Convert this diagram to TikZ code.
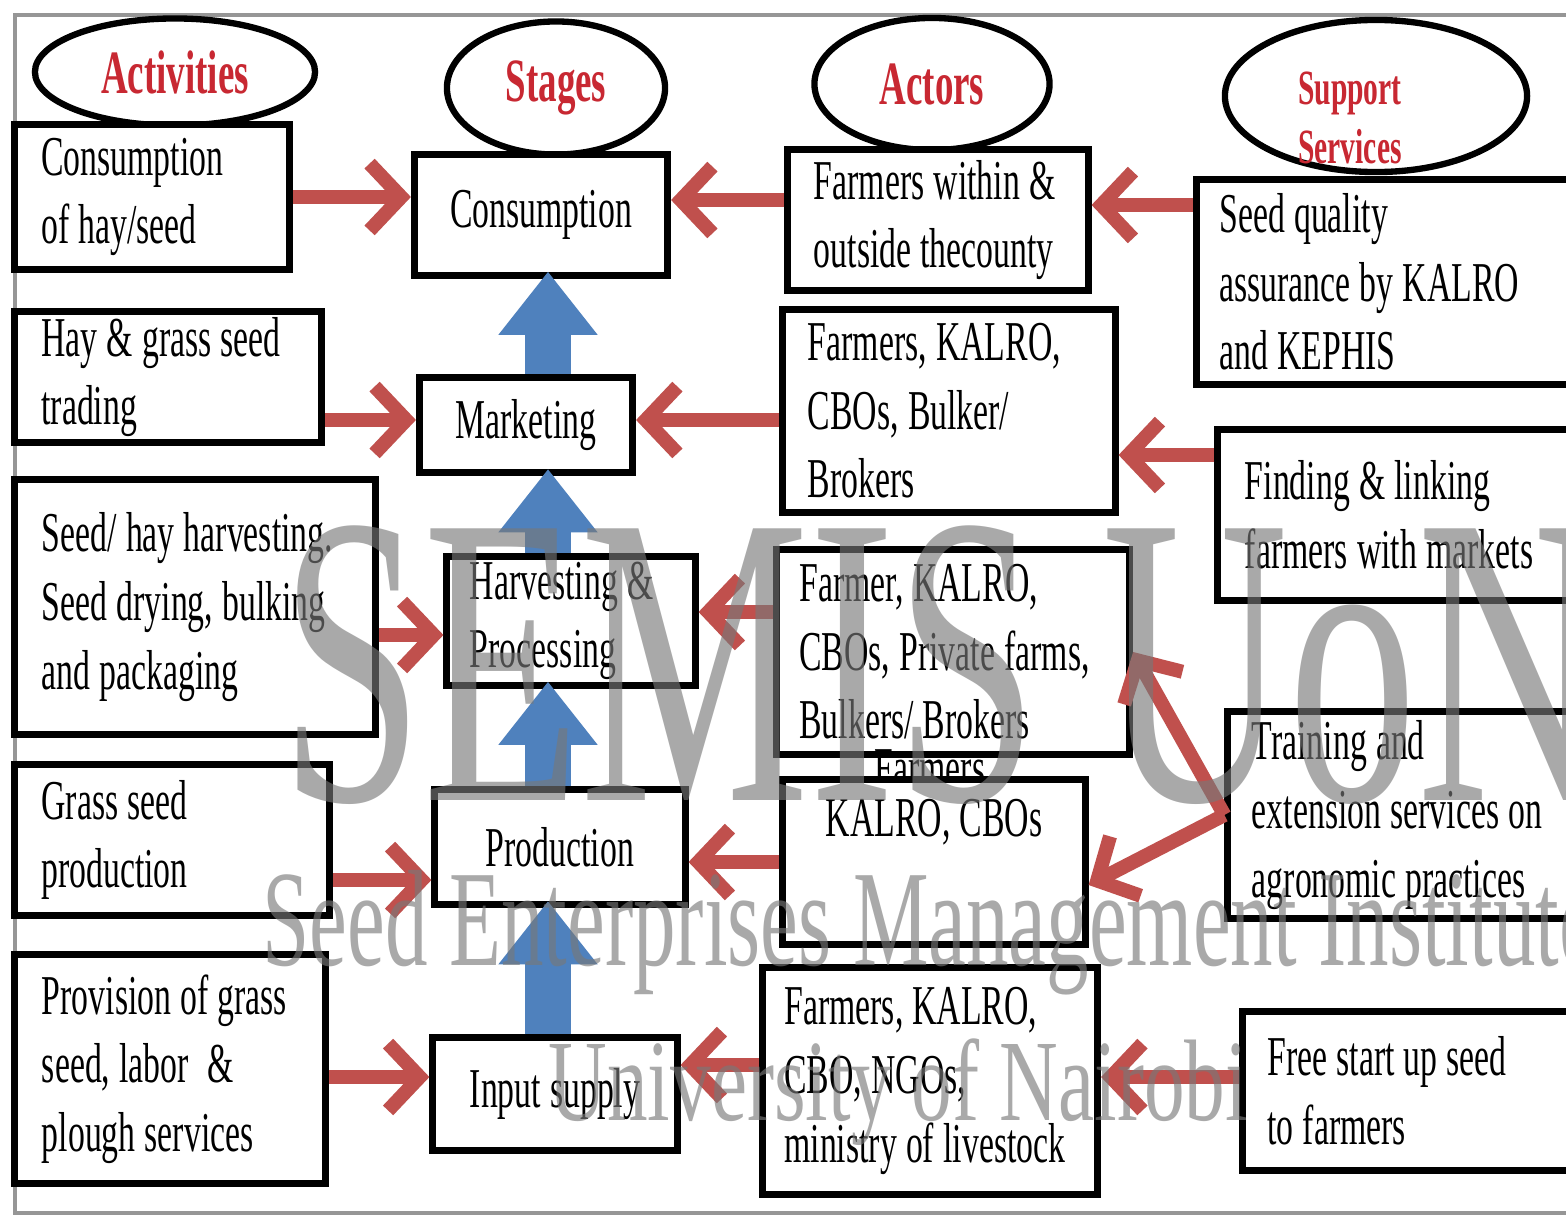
\documentclass[tikz,border=0pt]{standalone}
\usepackage{fontspec}
\setmainfont{Liberation Serif}
\newfontfamily\chainfont{Liberation Serif}[FakeStretch=0.6]
\newfontfamily\markfont{Liberation Serif}[FakeStretch=0.62]
\newfontfamily\markwidefont{Liberation Serif}[FakeStretch=0.7]
\usetikzlibrary{shapes.geometric,arrows.meta}
\definecolor{arrowred}{RGB}{192,80,77}
\definecolor{titlered}{RGB}{200,40,50}
\definecolor{arrowblue}{RGB}{79,129,189}
\definecolor{framegray}{RGB}{150,150,150}
\newcommand{\boxtext}{\chainfont\fontsize{16}{19.5}\selectfont\spaceskip=2.6pt plus 1.5pt minus 0.8pt\hyphenpenalty=10000\relax}
\newcommand{\headtext}{\chainfont\bfseries\fontsize{17.5}{20}\selectfont}
\newcommand{\suptext}{\chainfont\bfseries\fontsize{14}{17}\selectfont}

\begin{document}
\begin{tikzpicture}[x=0.01cm, y=-0.01cm,
		box/.style={draw, line width=2pt, fill=white, inner sep=0pt, align=flush left, font=\boxtext},
		stagebox/.style={box, align=flush center},
		titleoval/.style={ellipse, draw, line width=1.8pt, fill=white, inner sep=0pt, text=titlered, font=\headtext},
		redarrow/.style={draw=arrowred, line width=4pt, -{Straight Barb[length=9pt,width=19pt]}},
		bluearrow/.style={draw=arrowblue, line width=13pt, -{Triangle[length=18pt,width=27pt]}, shorten >=-2pt},
		wmark/.style={text=black!53, opacity=0.63, inner sep=0pt, anchor=base west}]
	\useasboundingbox (0,0) rectangle (1566,1218);
	\clip (0,0) rectangle (1566,1218);
	\fill[white] (0,0) rectangle (1566,1218);
	\draw[framegray, line width=1pt] (15,15) rectangle (1620,1213);

	% column heads
	\node[titleoval, minimum width=2.80cm, minimum height=1.07cm] (hact) at (175,72) {Activities};
	\node[titleoval, minimum width=2.18cm, minimum height=1.33cm] (hsta) at (556,88) {Stages};
	\node[titleoval, minimum width=2.35cm, minimum height=1.32cm] (hactor) at (932,84) {Actors};
	\node[titleoval, minimum width=3.02cm, minimum height=1.52cm] (hsup) at (1376,96) {};
	\node[text=titlered, font=\suptext, align=flush center, inner sep=0pt] (tsup) at (1350,118) {Support\\Services};

	% activities
	\node[box, minimum width=2.75cm, minimum height=1.45cm, text width=2.21cm] (a1) at (152,197) {Consumption\\of hay/seed};
	\node[box, minimum width=3.07cm, minimum height=1.30cm, text width=2.53cm] (a2) at (168,377) {Hay \& grass seed\\trading};
	\node[box, minimum width=3.60cm, minimum height=2.55cm, text width=3.06cm] (a3) at (195,607) {Seed/ hay harvesting.\\Seed drying, bulking\\and packaging};
	\node[box, minimum width=3.15cm, minimum height=1.50cm, text width=2.61cm] (a4) at (172,840) {Grass seed\\production};
	\node[box, minimum width=3.10cm, minimum height=2.28cm, text width=2.56cm] (a5) at (170,1069) {Provision of grass\\seed, labor\ \ \&\\plough services};

	% stages
	\node[stagebox, minimum width=2.53cm, minimum height=1.20cm] (s1) at (541,215) {Consumption};
	\node[stagebox, minimum width=2.13cm, minimum height=0.95cm] (s2) at (526,425) {Marketing};
	\node[box, minimum width=2.48cm, minimum height=1.28cm, text width=2.02cm] (s3) at (571,621) {Harvesting \&\\Processing};
	\node[stagebox, minimum width=2.50cm, minimum height=1.15cm] (s4) at (560,847) {Production};
	\node[stagebox, minimum width=2.44cm, minimum height=1.12cm] (s5) at (555,1094) {Input supply};

	% actors
	\node[box, minimum width=3.00cm, minimum height=1.40cm, text width=2.48cm] (ac1) at (938,220) {Farmers within \&\\outside thecounty};
	\node[box, minimum width=3.32cm, minimum height=2.02cm, text width=2.82cm] (ac2) at (949,411) {Farmers, KALRO,\\CBOs, Bulker/\\Brokers};
	\node[box, minimum width=3.53cm, minimum height=2.05cm, text width=3.07cm] (ac3) at (953,652) {Farmer,\ KALRO,\\CBOs, Private farms,\\Bulkers/\ Brokers};
	\node[font=\boxtext, inner sep=0pt, anchor=base] (hidf) at (930,786) {Farmers};
	\node[stagebox, minimum width=3.02cm, minimum height=1.65cm] (ac4) at (934,862) {KALRO,\ CBOs\\\strut};
	\node[box, minimum width=3.35cm, minimum height=2.27cm, text width=2.91cm] (ac5) at (930,1081) {Farmers, KALRO,\\CBO, NGOs,\\ministry\ of livestock};

	% support services
	\node[box, minimum width=4.03cm, minimum height=2.05cm, text width=3.57cm] (su1) at (1398,282) {Seed quality\\assurance by KALRO\\and KEPHIS};
	\node[box, minimum width=3.82cm, minimum height=1.70cm, text width=3.28cm] (su2) at (1409,515) {Finding \& linking\\farmers with markets};
	\node[box, minimum width=3.72cm, minimum height=2.06cm, text width=3.24cm] (su3) at (1414,815) {Training and\\extension services on\\agronomic practices};
	\node[box, minimum width=3.57cm, minimum height=1.58cm, text width=3.07cm] (su4) at (1421,1091) {Free start up seed\\to farmers};

	% stage flow
	\coordinate (spine) at (548,0);
	\draw[bluearrow] (spine |- s2.north) -- (spine |- s1.south);
	\draw[bluearrow] (spine |- s3.north) -- (spine |- s2.south);
	\draw[bluearrow] (spine |- s4.north) -- (spine |- s3.south);
	\draw[bluearrow] (spine |- s5.north) -- (spine |- s4.south);

	% links into the stages
	\draw[redarrow] (a1.east) -- (s1.west |- a1.east);
	\draw[redarrow] (a2.east |- 0,420) -- (s2.west |- 0,420);
	\draw[redarrow] (a3.east |- 0,635) -- (s3.west |- 0,635);
	\draw[redarrow] (a4.east |- 0,880) -- (s4.west |- 0,880);
	\draw[redarrow] (a5.east |- 0,1077) -- (s5.west |- 0,1077);
	\draw[redarrow] (ac1.west |- 0,200) -- (s1.east |- 0,200);
	\draw[redarrow] (ac2.west |- 0,420) -- (s2.east |- 0,420);
	\draw[redarrow] (ac3.west |- 0,612) -- (s3.east |- 0,612);
	\draw[redarrow] (ac4.west |- 0,862) -- (s4.east |- 0,862);
	\draw[redarrow] (ac5.west |- 0,1065) -- (s5.east |- 0,1065);
	\draw[redarrow] (su1.west |- 0,205) -- (ac1.east |- 0,205);
	\draw[redarrow] (su2.west |- 0,455) -- (ac2.east |- 0,455);
	\draw[redarrow] (su3.west) -- (ac3.east);
	\draw[redarrow] (su3.west) -- (ac4.east |- 0,885);
	\draw[redarrow] (su4.west |- 0,1077) -- (ac5.east |- 0,1077);

	% watermark
	\node[wmark, font=\markfont\fontsize{118}{120}\selectfont] (wm1) at (280,800) {SEMIS UoN};
	\node[wmark, font=\markfont\fontsize{39}{42}\selectfont] (wm2) at (262,965) {Seed Enterprises Management Institute};
	\node[wmark, font=\markwidefont\fontsize{33}{36}\selectfont] (wm3) at (548,1120) {University of Nairobi};
\end{tikzpicture}
\end{document}
